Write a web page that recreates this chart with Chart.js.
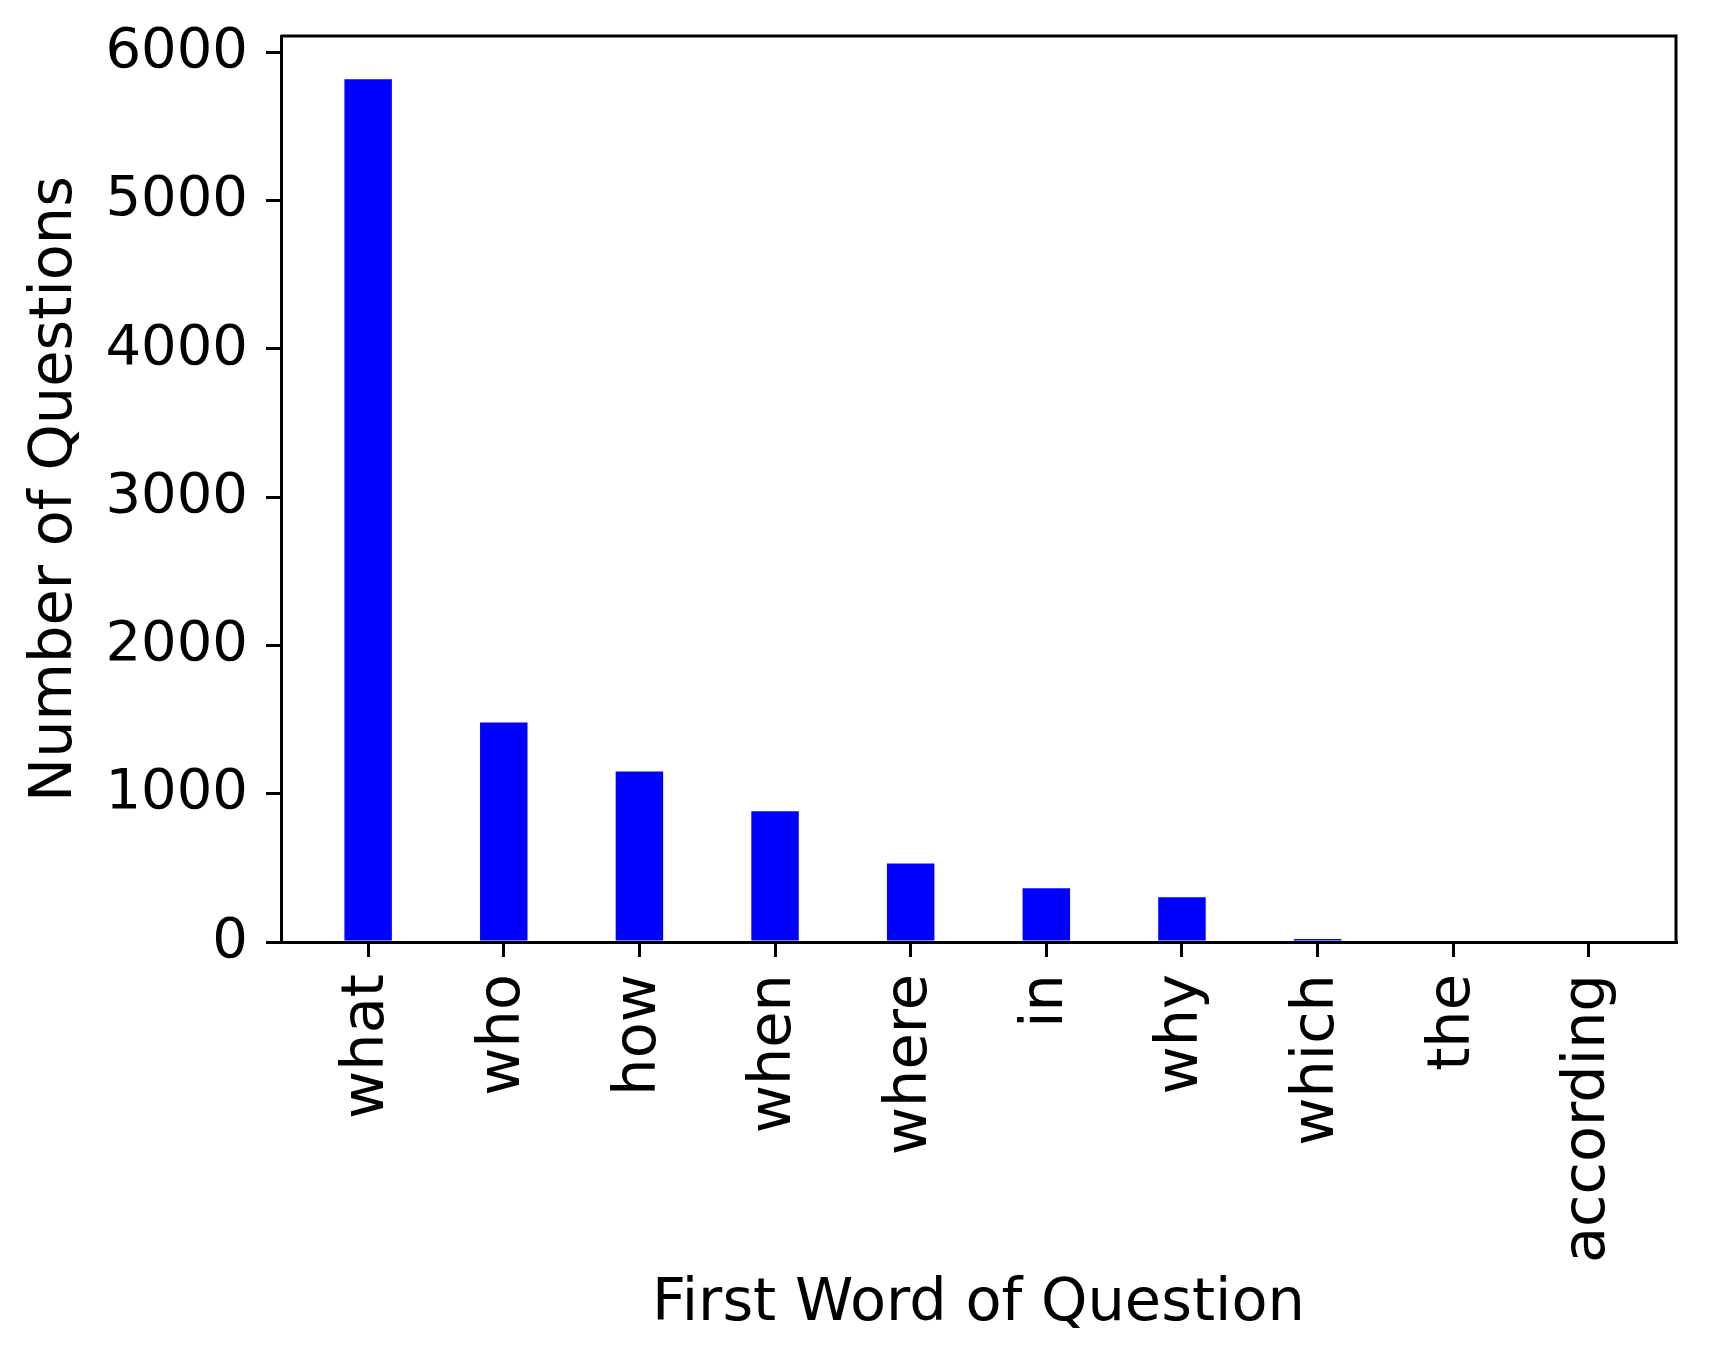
<!DOCTYPE html>
<html>
<head>
<meta charset="utf-8">
<script src="https://cdn.jsdelivr.net/npm/chart.js@4.4.0/dist/chart.umd.min.js"></script>
<style>
  html, body { margin: 0; padding: 0; background: #ffffff; }
  #wrap { width: 1709px; height: 1362px; }
</style>
</head>
<body>
<div id="wrap"><canvas id="c" width="1709" height="1362"></canvas></div>
<script>
const categories = ["what", "who", "how", "when", "where", "in", "why", "which", "the", "according"];
const questionCounts = [5820, 1480, 1150, 882, 530, 362, 301, 20, 0, 0];
const yTickValues = [0, 1000, 2000, 3000, 4000, 5000, 6000];
const xTitle = "First Word of Question";
const yTitle = "Number of Questions";

const FONT = "'DejaVu Sans', sans-serif";

const frameBox = {
  id: 'frameBox',
  afterDatasetsDraw(chart) {
    const a = chart.chartArea;
    const ctx = chart.ctx;
    ctx.save();
    ctx.strokeStyle = '#000000';
    ctx.lineWidth = 3;
    ctx.beginPath();
    ctx.moveTo(a.left, a.top);
    ctx.lineTo(a.right, a.top);
    ctx.lineTo(a.right, a.bottom);
    ctx.stroke();
    ctx.restore();
  }
};

new Chart(document.getElementById('c'), {
  type: 'bar',
  data: {
    datasets: [{
      data: categories.map((c, i) => ({ x: i, y: questionCounts[i] })),
      backgroundColor: '#0000ff',
      borderWidth: 0,
      barPercentage: 0.35,
      categoryPercentage: 1.0
    }]
  },
  options: {
    responsive: false,
    animation: false,
    devicePixelRatio: 1,
    layout: { padding: { left: 0, top: 36, right: 33, bottom: 0 } },
    plugins: {
      legend: { display: false },
      tooltip: { enabled: false }
    },
    scales: {
      x: {
        type: 'linear',
        offset: false,
        min: -0.6425,
        max: 9.6425,
        afterBuildTicks: (scale) => { scale.ticks = categories.map((c, i) => ({ value: i })); },
        afterFit: (scale) => { scale.height = 420; scale.paddingLeft = 0; scale.paddingRight = 0; },
        ticks: {
          autoSkip: false,
          maxRotation: 90,
          minRotation: 90,
          padding: 17,
          color: '#000000',
          font: { family: FONT, size: 59 },
          callback: (v) => categories[v]
        },
        grid: { offset: false, drawOnChartArea: false, drawTicks: true, tickLength: 15, color: '#000000', lineWidth: 3 },
        border: { display: true, color: '#000000', width: 3 },
        title: {
          display: true,
          text: xTitle,
          color: '#000000',
          font: { family: FONT, size: 59, lineHeight: 1.2 },
          padding: { top: 0, bottom: 22 }
        }
      },
      y: {
        type: 'linear',
        min: 0,
        max: 6111,
        afterBuildTicks: (scale) => { scale.ticks = yTickValues.map(v => ({ value: v })); },
        afterFit: (scale) => { scale.width = 281; scale.paddingTop = 0; scale.paddingBottom = 0; },
        ticks: {
          padding: 18,
          color: '#000000',
          font: { family: FONT, size: 56 },
          callback: (v) => String(v)
        },
        grid: { drawOnChartArea: false, drawTicks: true, tickLength: 15, color: '#000000', lineWidth: 3 },
        border: { display: true, color: '#000000', width: 3 },
        title: {
          display: true,
          text: yTitle,
          color: '#000000',
          font: { family: FONT, size: 59, lineHeight: 1.2 },
          padding: { top: 20, bottom: 0 }
        }
      }
    }
  },
  plugins: [frameBox]
});
</script>
</body>
</html>
